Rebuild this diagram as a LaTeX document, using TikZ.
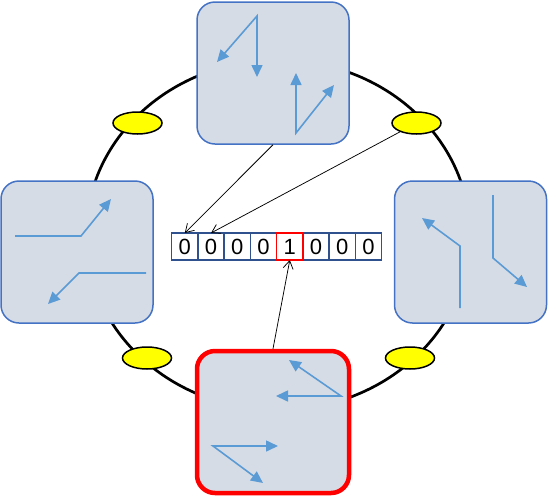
\documentclass[tikz,border=0pt]{standalone}
\usepackage{fontspec}
\setmainfont{Liberation Sans}
\usetikzlibrary{arrows.meta,shapes.geometric}
\definecolor{TokBlue}{RGB}{68,114,196}
\definecolor{TokFill}{RGB}{214,220,229}
\definecolor{TokGlyph}{RGB}{91,155,213}
\definecolor{TokNavy}{RGB}{47,82,143}
\definecolor{TokRed}{RGB}{255,0,0}
\definecolor{TokYellow}{RGB}{255,255,0}
\tikzset{
  tok/box/.style={
    draw=TokBlue,
    line width=1.5pt,
    rounded corners=18pt,
    fill=TokFill,
    minimum width=152pt,
    minimum height=142pt,
    inner sep=0pt
  },
  tok/active/.style={tok/box, draw=TokRed, line width=4.5pt},
  tok/station/.style={
    ellipse,
    draw=black,
    line width=1.5pt,
    fill=TokYellow,
    minimum width=49pt,
    minimum height=22pt,
    inner sep=0pt
  },
  tok/ring/.style={draw=black, line width=2.7pt},
  tok/cell/.style={
    draw=TokNavy,
    line width=1.5pt,
    fill=white,
    minimum width=26.25pt,
    minimum height=27pt,
    inner sep=0pt,
    outer sep=0pt,
    font=\fontsize{22}{22}\selectfont
  },
  tok/glyph/.style={draw=TokGlyph, line width=1.6pt, -{Triangle[length=12pt,width=11pt]}},
  tok/twoway/.style={tok/glyph, {Triangle[length=12pt,width=11pt]}-{Triangle[length=12pt,width=11pt]}},
  tok/link/.style={draw=black, line width=0.75pt, -{Straight Barb[length=8pt,width=10pt]}}
}
\begin{document}
\begin{tikzpicture}[x=1pt,y=-1pt]
  \useasboundingbox (0,0) rectangle (548,496);
  % ring and the four states
  \draw[tok/ring] (278,235) ellipse [x radius=192, y radius=175];
  \node[tok/box] (boxN) at (273,73) {};
  \node[tok/box] (boxW) at (77,252) {};
  \node[tok/box] (boxE) at (470.5,252) {};
  \node[tok/active] (boxS) at (273,422) {};
  \node[tok/station] (stNW) at (137.5,123) {};
  \node[tok/station] (stNE) at (416.5,123) {};
  \node[tok/station] (stSW) at (147,358) {};
  \node[tok/station] (stSE) at (410,358) {};
  % glyphs inside the boxes
  \begin{scope}[shift={(boxN.center)}]
    \draw[tok/twoway] (-56,-11) -- (-16,-57) -- (-16,4);
    \draw[tok/twoway] (23,0) -- (23,60) -- (61,12);
  \end{scope}
  \begin{scope}[shift={(boxW.center)}]
    \draw[tok/glyph] (-62,-16) -- (4,-16) -- (34,-53);
    \draw[tok/glyph] (69,21) -- (2,21) -- (-29,52);
  \end{scope}
  \begin{scope}[shift={(boxE.center)}]
    \draw[tok/glyph] (-10.5,56) -- (-10.5,-6) -- (-48.5,-34);
    \draw[tok/glyph] (22.5,-57) -- (22.5,6) -- (56.5,35);
  \end{scope}
  \begin{scope}[shift={(boxS.center)}]
    \draw[tok/twoway] (16,-62) -- (68,-26) -- (3,-26);
    \draw[tok/twoway] (5,24) -- (-60,24) -- (-10,61);
  \end{scope}
  % register
  \foreach \bit [count=\i] in {0,0,0,0,1,0,0,0}
    \node[tok/cell] (cell\i) at ({184.8+26.25*(\i-1)},246.5) {\bit};
  \draw[TokRed, line width=1.5pt] (cell5.south west) rectangle (cell5.north east);
  \draw[tok/link] (boxN.south) -- (cell1.north);
  \draw[tok/link] (stNE) -- (cell2.north);
  \draw[tok/link] (boxS.north) -- (cell5.south);
\end{tikzpicture}
\end{document}
